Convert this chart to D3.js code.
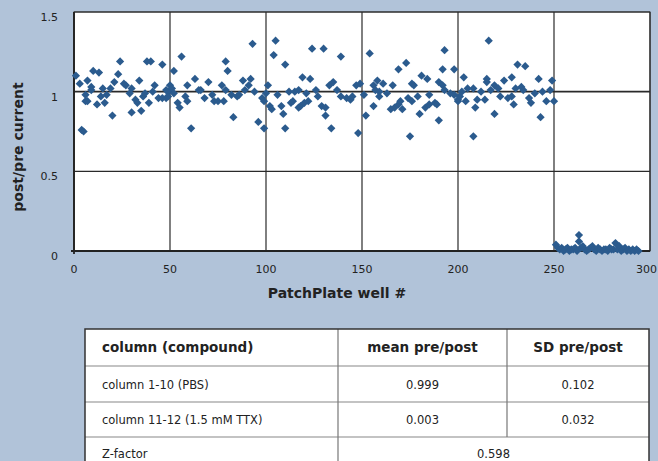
<!DOCTYPE html>
<html>
<head>
<meta charset="utf-8">
<script src="https://cdn.jsdelivr.net/npm/d3@7"></script>
<style>
  body { margin: 0; background: #b1c3d9; }
  text { font-family: "DejaVu Sans", "Liberation Sans", Arial, sans-serif; }
</style>
</head>
<body>
<div id="chart"></div>
<script>
// well index / post-pre ratio
const wells = [
  1,3,4,5,6,6,7,7,9,9,10,12,13,14,15,16,17,19,20,21,23,24,26,27,29,30,30,32,33,34,35,36,37,38,39,40,41,42,44,46,46,48,48,
  49,49,50,51,52,52,54,55,56,58,59,59,61,63,65,66,68,70,72,73,75,77,78,79,79,80,82,83,85,86,88,89,91,92,93,94,96,98,99,99,100,
  101,102,103,104,105,106,108,109,110,110,112,113,114,115,117,117,118,119,120,121,122,123,124,126,127,129,130,131,131,133,134,135,137,139,139,142,144,145,147,148,149,
  151,152,154,156,156,157,158,159,159,161,163,165,166,167,169,169,170,171,173,174,175,176,176,177,179,180,181,183,184,185,185,188,189,190,190,192,192,193,193,196,198,198,200,
  200,201,202,203,204,205,208,208,209,210,212,214,215,215,216,217,219,219,221,222,224,226,228,228,229,230,231,233,234,235,237,238,240,242,243,244,246,248,249,250,
  251,252,253,254,255,256,257,258,259,260,261,262,263,263,264,265,266,267,268,269,270,271,272,273,274,275,276,277,278,279,280,281,282,283,284,285,286,287,288,289,290,291,292,293,294
];
const ratios = [
  1.10,1.05,0.76,0.75,0.98,0.94,1.07,0.94,1.03,1.01,1.13,0.92,1.12,0.97,1.02,0.93,0.98,1.02,0.85,1.06,1.11,1.19,1.05,1.04,0.99,1.02,0.87,0.95,0.93,1.07,0.88,0.97,0.99,1.19,0.93,1.19,1.00,1.04,0.96,0.96,1.17,0.96,1.01,
  1.00,0.97,1.04,1.02,1.13,0.99,0.93,0.90,1.22,0.97,0.94,1.04,0.77,1.08,1.01,1.01,0.96,1.06,0.98,0.94,0.94,1.04,0.94,1.01,1.19,1.13,0.98,0.84,0.97,0.98,1.07,1.01,1.04,1.08,1.30,1.00,0.81,0.96,0.94,0.77,0.99,
  1.04,0.91,0.89,1.23,1.32,0.98,0.91,0.86,0.77,1.17,1.00,0.93,0.94,1.00,1.01,0.90,0.91,1.09,0.93,0.99,0.94,1.08,1.27,1.01,0.97,0.91,1.27,0.90,0.85,1.04,0.77,1.06,1.01,1.22,0.97,0.96,0.95,0.97,1.04,0.74,1.05,
  0.98,0.85,1.24,1.04,0.91,1.01,1.07,1.00,0.97,1.05,0.99,0.89,1.04,0.90,0.92,1.14,0.94,0.89,1.18,0.96,0.72,1.05,0.94,1.04,0.97,0.86,1.10,0.90,1.08,0.92,0.98,0.93,0.92,1.06,0.82,1.04,1.14,1.01,1.26,0.99,0.98,1.14,0.94,
  0.95,0.97,1.00,1.09,0.94,1.02,1.02,0.72,0.90,0.95,1.00,0.95,1.08,1.06,1.32,1.01,1.04,0.86,1.02,0.97,1.07,0.96,0.97,1.09,0.92,1.02,1.17,1.03,1.01,1.16,0.96,0.93,0.99,1.08,0.84,1.00,0.94,1.01,1.07,0.94,
  0.04,0.02,0.01,0.02,0.00,0.01,0.02,0.00,0.01,0.01,0.02,0.00,0.10,0.06,0.02,0.03,0.01,0.00,0.01,0.02,0.03,0.01,0.00,0.02,0.01,0.00,0.01,0.01,0.00,0.02,0.01,0.01,0.05,0.01,0.03,0.00,0.01,0.02,0.00,0.01,0.00,0.01,0.00,0.01,0.00
];

const xTicks = [0, 50, 100, 150, 200, 250, 300];
const yTicks = [0, 0.5, 1, 1.5];

const tableHeader = ["column (compound)", "mean pre/post", "SD pre/post"];
const tableRows = [
  ["column 1-10 (PBS)", "0.999", "0.102"],
  ["column 11-12 (1.5 mM TTX)", "0.003", "0.032"]
];
const zFactor = ["Z-factor", "0.598"];

const W = 658, H = 461;
const plot = { left: 74, right: 650, top: 12, bottom: 251 };

const svg = d3.select("#chart").append("svg")
  .attr("width", W).attr("height", H);

svg.append("rect").attr("width", W).attr("height", H).attr("fill", "#b1c3d9");

const x = d3.scaleLinear().domain([0, 300]).range([plot.left, plot.right]);
const y = d3.scaleLinear().domain([0, 1.5]).range([plot.bottom, plot.top]);

svg.append("rect")
  .attr("x", plot.left).attr("y", plot.top)
  .attr("width", plot.right - plot.left).attr("height", plot.bottom - plot.top)
  .attr("fill", "#fff").attr("stroke", "#333").attr("stroke-width", 1);

// grid
svg.append("g").selectAll("line").data(xTicks).join("line")
  .attr("x1", d => x(d)).attr("x2", d => x(d))
  .attr("y1", plot.top).attr("y2", plot.bottom)
  .attr("stroke", "#2a2a2a").attr("stroke-width", 1.2);
svg.append("g").selectAll("line").data(yTicks).join("line")
  .attr("x1", plot.left).attr("x2", plot.right)
  .attr("y1", d => y(d)).attr("y2", d => y(d))
  .attr("stroke", "#2a2a2a").attr("stroke-width", d => d === 1 ? 1.6 : 1.2);

// axis lines (left + bottom a bit heavier)
svg.append("line").attr("x1", plot.left).attr("x2", plot.left)
  .attr("y1", plot.top).attr("y2", plot.bottom + 3)
  .attr("stroke", "#222").attr("stroke-width", 1.8);
svg.append("line").attr("x1", plot.left - 3).attr("x2", plot.right)
  .attr("y1", plot.bottom).attr("y2", plot.bottom)
  .attr("stroke", "#222").attr("stroke-width", 1.8);

// tick labels
svg.append("g").selectAll("text").data(yTicks).join("text")
  .attr("x", 58).attr("y", d => y(d) + 9)
  .attr("text-anchor", "end").attr("font-size", 11).attr("fill", "#222")
  .text(d => d);
svg.append("g").selectAll("text").data(xTicks).join("text")
  .attr("x", d => d === 300 ? W - 1 : x(d)).attr("y", 273)
  .attr("text-anchor", d => d === 300 ? "end" : "middle")
  .attr("font-size", 11).attr("fill", "#222")
  .text(d => d);

// axis titles
svg.append("text").attr("x", 337).attr("y", 298)
  .attr("text-anchor", "middle").attr("font-size", 14).attr("font-weight", "bold")
  .attr("fill", "#222").text("PatchPlate well #");
svg.append("text").attr("transform", "translate(23,147) rotate(-90)")
  .attr("text-anchor", "middle").attr("font-size", 14).attr("font-weight", "bold")
  .attr("fill", "#222").text("post/pre current");

// points
const pts = wells.map((w, i) => ({ w: w, v: ratios[i] }));
const diamond = d3.symbol().type(d3.symbolSquare).size(34);
svg.append("g").selectAll("path").data(pts).join("path")
  .attr("d", diamond)
  .attr("transform", d => `translate(${x(d.w)},${y(d.v)}) rotate(45)`)
  .attr("fill", "#2b5b8e");

// table
const cols = [85, 338, 507, 649];
const rowsY = [329, 366, 402, 437, 472];
const tbl = svg.append("g");
tbl.append("rect").attr("x", cols[0]).attr("y", rowsY[0])
  .attr("width", cols[3] - cols[0]).attr("height", rowsY[4] - rowsY[0])
  .attr("fill", "#fff");
tbl.selectAll("line.h").data(rowsY.slice(1, 4)).join("line")
  .attr("x1", cols[0]).attr("x2", cols[3])
  .attr("y1", d => d).attr("y2", d => d)
  .attr("stroke", "#888").attr("stroke-width", 1.2);
tbl.append("line").attr("x1", cols[1]).attr("x2", cols[1])
  .attr("y1", rowsY[0]).attr("y2", rowsY[4]).attr("stroke", "#777").attr("stroke-width", 1.2);
tbl.append("line").attr("x1", cols[2]).attr("x2", cols[2])
  .attr("y1", rowsY[0]).attr("y2", rowsY[3]).attr("stroke", "#777").attr("stroke-width", 1.2);
tbl.append("rect").attr("x", cols[0]).attr("y", rowsY[0])
  .attr("width", cols[3] - cols[0]).attr("height", rowsY[4] - rowsY[0])
  .attr("fill", "none").attr("stroke", "#333").attr("stroke-width", 1.5);

const colCenter = i => (cols[i] + cols[i + 1]) / 2;
tableHeader.forEach((t, i) => {
  tbl.append("text")
    .attr("x", i === 0 ? 102 : colCenter(i)).attr("y", 352)
    .attr("text-anchor", i === 0 ? "start" : "middle")
    .attr("font-size", 13.5).attr("font-weight", "bold").attr("fill", "#222")
    .text(t);
});
tableRows.forEach((r, j) => {
  const by = [389, 424][j];
  r.forEach((t, i) => {
    tbl.append("text")
      .attr("x", i === 0 ? 102 : colCenter(i)).attr("y", by)
      .attr("text-anchor", i === 0 ? "start" : "middle")
      .attr("font-size", 11.5).attr("fill", "#222")
      .text(t);
  });
});
tbl.append("text").attr("x", 102).attr("y", 458)
  .attr("font-size", 11.5).attr("fill", "#222").text(zFactor[0]);
tbl.append("text").attr("x", (cols[1] + cols[3]) / 2).attr("y", 458)
  .attr("text-anchor", "middle").attr("font-size", 11.5).attr("fill", "#222").text(zFactor[1]);
</script>
</body>
</html>
